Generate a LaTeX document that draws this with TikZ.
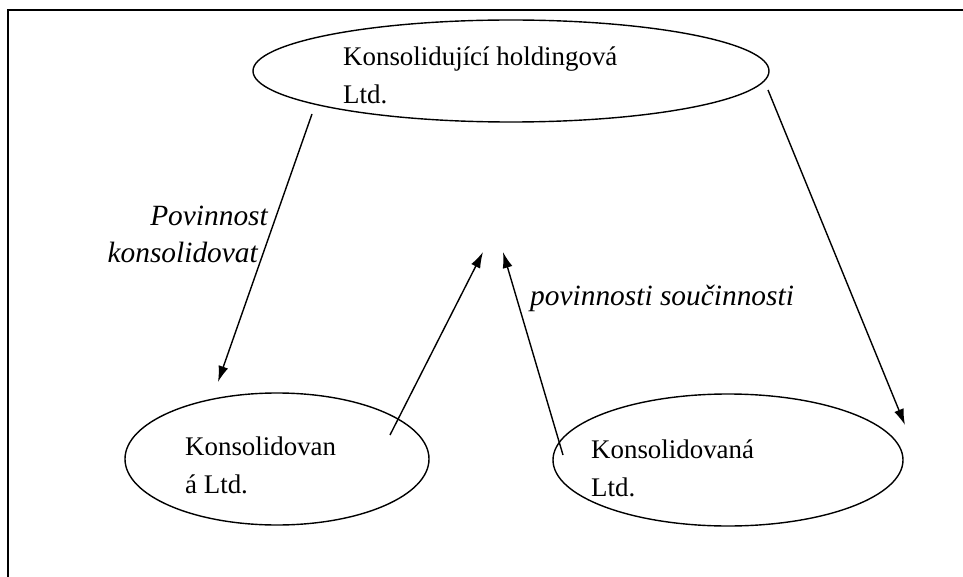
\documentclass[tikz,border=0pt]{standalone}
\usepackage{fontspec}
\setmainfont{Liberation Serif}
\usetikzlibrary{shapes.geometric,arrows.meta}
\begin{document}
\begin{tikzpicture}[x=1bp,y=-1bp,
  ell/.style={draw,ellipse,line width=1.4bp,inner sep=0pt},
  txt/.style={anchor=west,inner sep=0pt,font=\fontsize{27}{38}\selectfont,align=left},
  lbl/.style={inner sep=0pt,font=\fontsize{29.5}{37}\selectfont\itshape},
  arr/.style={line width=1.4bp,-{Latex[length=16bp,width=10bp]}}]
\useasboundingbox (0,0) rectangle (963,577);
\draw[line width=1.8bp] (963,10) -- (8,10) -- (8,577);
% ellipses
\node[ell,minimum width=516bp,minimum height=102bp] (top) at (511,71) {};
\node[ell,minimum width=304bp,minimum height=132bp] (lft) at (277,459) {};
\node[ell,minimum width=350bp,minimum height=132bp] (rgt) at (728,460) {};
% texts
\node[txt] (ttop) at (343,75) {Konsolidující holdingová\\Ltd.};
\node[txt] (tlft) at (185,465) {Konsolidovan\\á Ltd.};
\node[txt] (trgt) at (591,468) {Konsolidovaná\\Ltd.};
% labels
\node[lbl,anchor=east,align=right] (l1) at (268,234) {Povinnost\\konsolidovat\hspace*{10bp}};
\node[lbl,anchor=west] (l2) at (530,298) {povinnosti součinnosti};
% connectors
\coordinate (a1s) at (312,114);
\coordinate (a1e) at (218,382);
\coordinate (a2s) at (390,435);
\coordinate (a2e) at (483,252);
\coordinate (a3s) at (563,455);
\coordinate (a3e) at (503,252);
\coordinate (a4s) at (768,90);
\coordinate (a4e) at (905,425);
\draw[arr] (a1s) -- (a1e);
\draw[arr] (a2s) -- (a2e);
\draw[arr] (a3s) -- (a3e);
\draw[arr] (a4s) -- (a4e);
\end{tikzpicture}
\end{document}
